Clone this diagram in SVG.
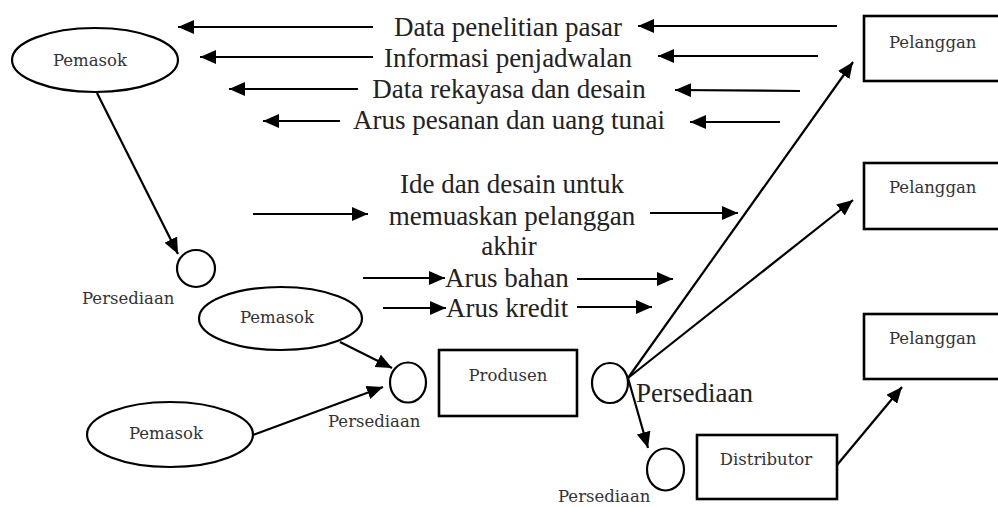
<svg xmlns="http://www.w3.org/2000/svg" width="998" height="507" viewBox="0 0 998 507">
<style>
.bg{fill:#fff}
.shape{fill:none;stroke:#000;stroke-width:2.2}
.box{fill:none;stroke:#000;stroke-width:2.6}
.conn{fill:none;stroke:#000;stroke-width:2.2;marker-end:url(#ah)}
.big{font-family:"Liberation Serif","Times New Roman",serif;font-size:27px;fill:#222}
.small{font-family:"DejaVu Serif",serif;font-size:16.5px;fill:#333}
.mid{text-anchor:middle}
</style>
<defs>
<marker id="ah" markerUnits="userSpaceOnUse" markerWidth="17" markerHeight="15" refX="16" refY="7" orient="auto">
<path d="M0,0 L16,7 L0,14 z" fill="#000"/>
</marker>
</defs>
<rect class="bg" x="0" y="0" width="998" height="507"/>

<g id="pemasok1">
<ellipse class="shape" cx="95" cy="60" rx="83" ry="32"/>
<text class="small mid" x="90" y="66">Pemasok</text>
</g>
<g id="persediaan1">
<ellipse class="shape" cx="196" cy="268.5" rx="19" ry="18.5"/>
<text class="small" x="82" y="304">Persediaan</text>
</g>
<g id="pemasok2">
<ellipse class="shape" cx="280.5" cy="318.5" rx="81.5" ry="31.5"/>
<text class="small mid" x="277" y="323">Pemasok</text>
</g>
<g id="pemasok3">
<ellipse class="shape" cx="170" cy="434.5" rx="83" ry="32.5"/>
<text class="small mid" x="166" y="439">Pemasok</text>
</g>
<g id="persediaan2">
<ellipse class="shape" cx="408" cy="382.5" rx="18" ry="20"/>
<text class="small" x="328" y="427">Persediaan</text>
</g>
<g id="produsen">
<rect class="box" x="439" y="350" width="138" height="66"/>
<text class="small mid" x="508" y="381">Produsen</text>
</g>
<g id="persediaan3">
<ellipse class="shape" cx="610" cy="383" rx="18" ry="20"/>
<text class="big" x="636" y="402">Persediaan</text>
</g>
<g id="persediaan4">
<ellipse class="shape" cx="665.5" cy="469.5" rx="18.5" ry="21"/>
<text class="small" x="558" y="502">Persediaan</text>
</g>
<g id="distributor">
<rect class="box" x="697" y="435" width="140" height="64"/>
<text class="small mid" x="766" y="465">Distributor</text>
</g>
<g id="pelanggan1">
<rect class="box" x="864" y="16" width="150" height="65"/>
<text class="small" x="889" y="48">Pelanggan</text>
</g>
<g id="pelanggan2">
<rect class="box" x="864" y="163" width="150" height="66"/>
<text class="small" x="889" y="193">Pelanggan</text>
</g>
<g id="pelanggan3">
<rect class="box" x="864" y="314" width="150" height="65"/>
<text class="small" x="889" y="344">Pelanggan</text>
</g>

<g id="flow-labels">
<text class="big mid" x="508" y="36">Data penelitian pasar</text>
<text class="big mid" x="508" y="67">Informasi penjadwalan</text>
<text class="big mid" x="509" y="98">Data rekayasa dan desain</text>
<text class="big mid" x="509" y="129">Arus pesanan dan uang tunai</text>
<text class="big mid" x="512" y="193">Ide dan desain untuk</text>
<text class="big mid" x="512" y="225">memuaskan pelanggan</text>
<text class="big mid" x="509" y="255">akhir</text>
<text class="big" x="445" y="287">Arus bahan</text>
<text class="big" x="446" y="317">Arus kredit</text>
</g>

<g id="connectors">
<line class="conn" x1="373" y1="27" x2="178" y2="27"/>
<line class="conn" x1="373" y1="57" x2="200" y2="57"/>
<line class="conn" x1="358" y1="89" x2="229" y2="89"/>
<line class="conn" x1="340" y1="121" x2="263" y2="121"/>
<line class="conn" x1="837" y1="26" x2="638" y2="26"/>
<line class="conn" x1="818" y1="56" x2="658" y2="56"/>
<line class="conn" x1="800" y1="91" x2="675" y2="90"/>
<line class="conn" x1="780" y1="122" x2="690" y2="122"/>
<line class="conn" x1="253" y1="214" x2="368" y2="214"/>
<line class="conn" x1="650" y1="213" x2="738" y2="213"/>
<line class="conn" x1="363" y1="278" x2="445" y2="278"/>
<line class="conn" x1="577" y1="279" x2="673" y2="279"/>
<line class="conn" x1="383" y1="308" x2="446" y2="308"/>
<line class="conn" x1="577" y1="307" x2="652" y2="307"/>
<line class="conn" x1="97" y1="93" x2="178" y2="254"/>
<line class="conn" x1="340" y1="342" x2="392" y2="368"/>
<line class="conn" x1="253" y1="435" x2="383" y2="387"/>
<line class="conn" x1="628" y1="378" x2="853" y2="62"/>
<line class="conn" x1="628" y1="378" x2="853" y2="200"/>
<line class="conn" x1="628" y1="378" x2="648" y2="448"/>
<line class="conn" x1="837" y1="465" x2="902" y2="387"/>
</g>
</svg>
